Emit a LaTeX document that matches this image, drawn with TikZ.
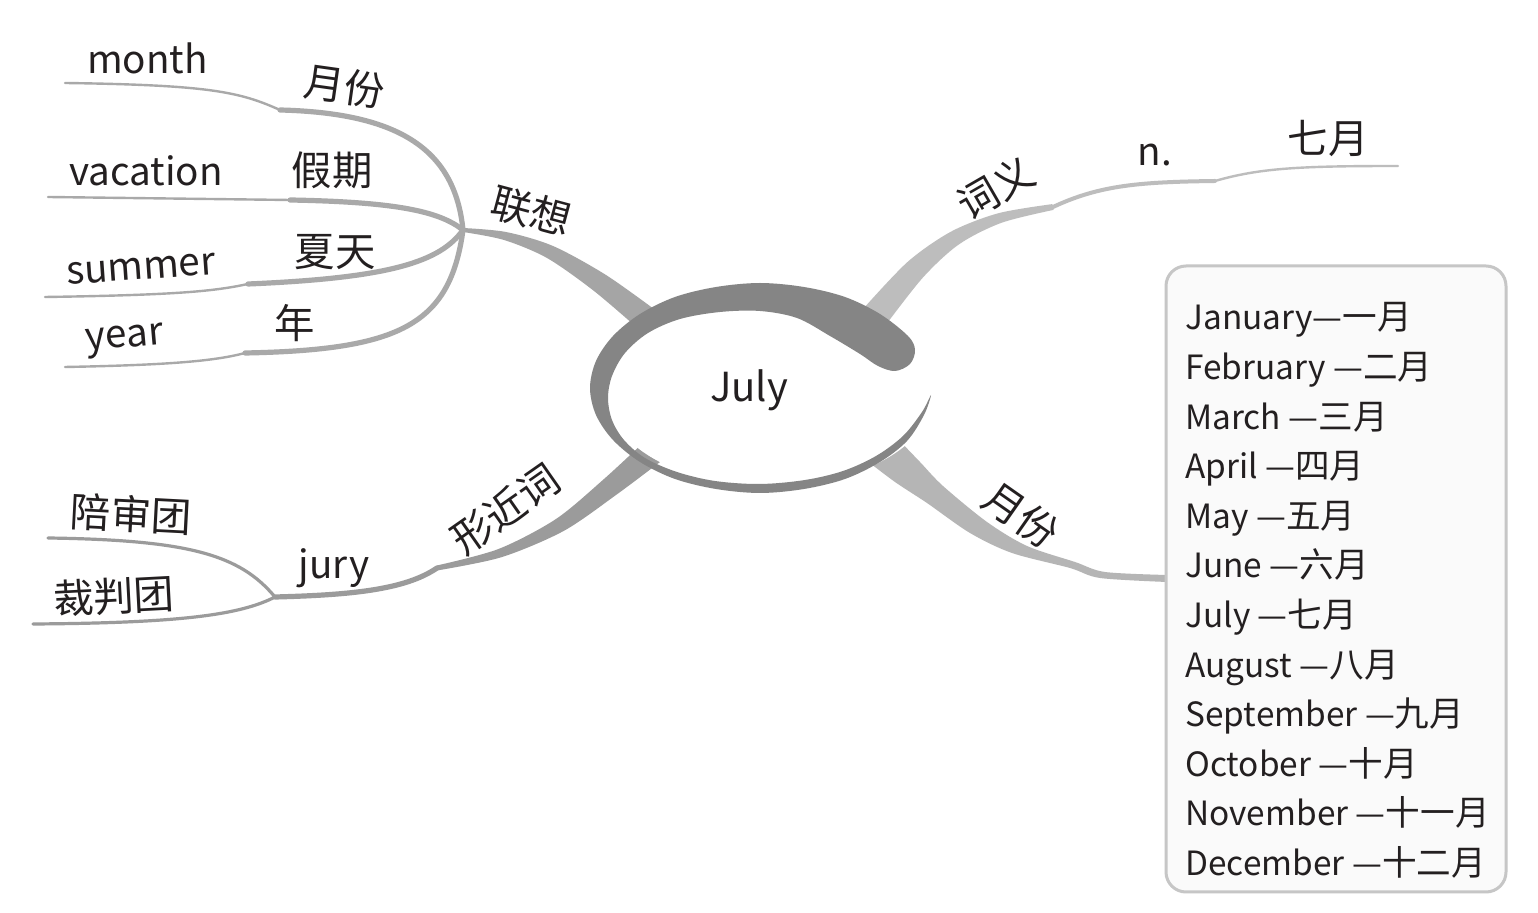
\documentclass[tikz,border=0pt]{standalone}
\usepackage{fontspec}
\setmainfont{Noto Sans CJK SC}
\definecolor{txt}{HTML}{231F20}
\definecolor{ringc}{HTML}{858585}
\definecolor{brA}{HTML}{A5A5A5}
\definecolor{brB}{HTML}{9B9B9B}
\definecolor{brC}{HTML}{BDBDBD}
\definecolor{brD}{HTML}{B5B5B5}
\definecolor{subl}{HTML}{A9A9A9}
\definecolor{boxline}{HTML}{C6C6C6}
\definecolor{boxfill}{HTML}{FAFAFA}
\newcommand\boxcjk[1]{{\fontsize{17.3}{20}\selectfont #1}}
\begin{document}
\begin{tikzpicture}[x=0.5pt,y=-0.5pt,
  lbl/.style={text=txt,inner sep=0pt,font=\fontsize{20.2}{24}\selectfont},
  elbl/.style={text=txt,inner sep=0pt,font=\fontsize{19.3}{23}\selectfont},
  mlbl/.style={text=txt,inner sep=0pt,anchor=base west,font=\fontsize{16.7}{20}\selectfont},
  subbr/.style={draw=subl,line width=2.6pt,line cap=round,line join=round},
  leaf/.style={draw=subl,line width=1.2pt,line cap=round}]
\useasboundingbox[fill=white] (0,0) rectangle (1538,913);

% junctions / kinks
\coordinate (J1) at (463,230);
\coordinate (K1) at (280,110);
\coordinate (K2) at (290,200);
\coordinate (K3) at (248,284);
\coordinate (K4) at (245,353);
\coordinate (K5) at (437,568);
\coordinate (J2) at (275,597);
\coordinate (K6) at (1053,207);
\coordinate (K7) at (1215,181);
\coordinate (E1) at (65,83);
\coordinate (E2) at (48,197);
\coordinate (E3) at (45,297);
\coordinate (E4) at (65,367);
\coordinate (E5) at (48,538);
\coordinate (E6) at (33,624);
\coordinate (E7) at (1398,166);

% main tapered branches
\fill[brA] plot[smooth] coordinates {(658,312) (606,275) (553,246) (506,232) (463,228)}
  -- plot[smooth] coordinates {(463,232) (504,240) (547,258) (594,291) (642,332)} -- cycle;
\fill[brB] plot[smooth] coordinates {(644,442) (604,479) (556,519) (498.5,549) (436.4,565.6)}
  -- plot[smooth] coordinates {(437.6,570.4) (501.5,557.2) (563.6,531) (616,495) (660,462)} -- cycle;
\fill[brC] plot[smooth] coordinates {(861.5,310.7) (907.4,262.1) (951.1,231.6) (998.5,213.2) (1052.4,204.1)}
  -- plot[smooth] coordinates {(1053.6,209.9) (1001.5,222.8) (958.9,244.4) (922.6,277.9) (882.5,329.3)} -- cycle;
\fill[brD] plot[smooth] coordinates {(895,436) (920,462) (943,486) (987,522) (1027,546) (1075,562) (1105,572) (1167,575)}
  -- plot[smooth] coordinates {(1167,582) (1100,578) (1070,568) (1012,553) (970,533) (927,503) (895,482) (866,460)} -- cycle;

% sub branches
\draw[subbr] (J1) .. controls (455,150) and (400,113) .. (K1);
\draw[leaf] (K1) .. controls (240,92) and (210,85) .. (E1);
\draw[subbr] (J1) .. controls (440,212) and (400,202) .. (K2);
\draw[leaf] (K2) -- (E2);
\draw[subbr] (J1) .. controls (440,262) and (390,278) .. (K3);
\draw[leaf] (K3) .. controls (215,291) and (180,295) .. (E3);
\draw[subbr] (J1) .. controls (450,325) and (400,350) .. (K4);
\draw[leaf] (K4) .. controls (215,361) and (170,365) .. (E4);
\draw[subbr,draw=brB] (K5) .. controls (405,590) and (350,595) .. (J2);
\draw[leaf,line width=1.6pt,draw=brB] (J2) .. controls (240,555) and (190,540) .. (E5);
\draw[leaf,line width=1.6pt,draw=brB] (J2) .. controls (240,615) and (180,623) .. (E6);
\draw[subbr,draw=brC,line width=2pt] (K6) .. controls (1100,185) and (1140,182) .. (K7);
\draw[leaf,draw=brC] (K7) .. controls (1260,168) and (1300,166) .. (E7);

% central topic
\fill[white] (770,396) ellipse [x radius=162, y radius=90];
\fill[ringc] plot[smooth cycle,tension=0.55] coordinates {
 (908,336) (880,314) (845,297) (804,287) (760,283) (716,287) (675,297) (640,314)
 (613,336) (596,361) (590,388) (596,415) (613,440) (640,462) (675,479) (716,489)
 (760,493) (804,489) (845,479) (880,462) (907,441) (924,415) (931,395)
 (922,412) (903,436) (876,456) (843,471) (805,480) (760,484) (715,481) (677,472)
 (645,458) (624,440) (612,420) (608,398) (612,376) (625,353) (648,333) (680,319)
 (720,312) (760,311) (797,318) (830,336) (860,354) (878,366) (895,371) (910,364) (915,350)};
\node[elbl,font=\fontsize{20}{24}\selectfont] (center) at (749,390) {July};

% labels
\node[elbl] (month) at (147.5,58.5) {month};
\node[lbl,rotate=-8] (yf1) at (345,86) {月份};
\node[elbl] (vacation) at (146,171) {vacation};
\node[lbl] (jq) at (332,170) {假期};
\node[lbl,rotate=-15] (lx) at (531,211) {联想};
\node[elbl,rotate=4] (summer) at (141,269) {summer};
\node[lbl] (xt) at (335,252) {夏天};
\node[elbl,rotate=5] (year) at (125,341) {year};
\node[lbl] (nian) at (295,323) {年};
\node[lbl,rotate=-3] (pst) at (131,514) {陪审团};
\node[lbl,rotate=3] (cpt) at (114,596) {裁判团};
\node[elbl] (jury) at (334,568) {jury};
\node[lbl,rotate=35] (xjc) at (505,509) {形近词};
\node[lbl,rotate=30] (cy) at (996,188) {词义};
\node[elbl] (n) at (1155,155) {n.};
\node[lbl] (qy) at (1328,139) {七月};
\node[lbl,rotate=-35] (yf2) at (1021,515) {月份};

% month box
\node[draw=boxline,fill=boxfill,line width=1.5pt,rounded corners=10pt,
  minimum width=170pt,minimum height=313pt,inner sep=0pt] (box) at (1336,579) {};
\foreach \e/\c [count=\i from 0] in {January/一月,February\ /二月,March\ /三月,April\ /四月,
  May\ /五月,June\ /六月,July\ /七月,August\ /八月,September\ /九月,October\ /十月,
  November\ /十一月,December\ /十二月}
  \node[mlbl] (m\i) at (1185,330+49.6*\i) {\e—\boxcjk{\c}};
\end{tikzpicture}
\end{document}
